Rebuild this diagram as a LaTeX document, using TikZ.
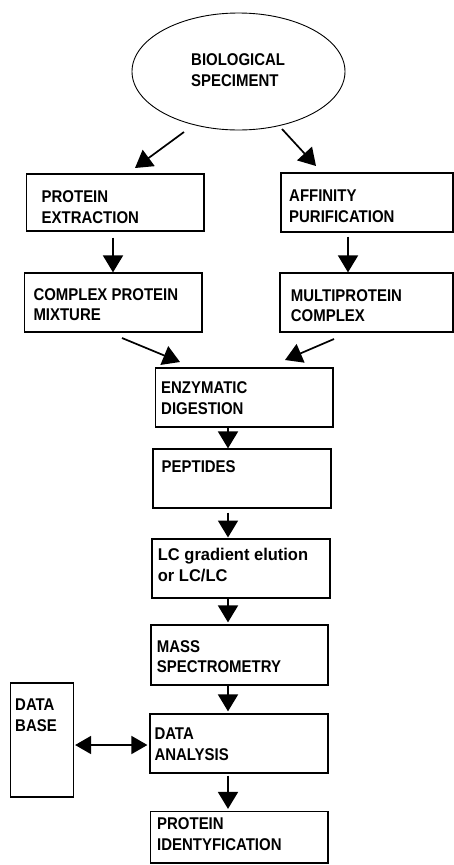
\documentclass[tikz,border=0pt]{standalone}
\usepackage{fontspec}
\setmainfont{Liberation Sans}[FakeStretch=0.88]
\newfontfamily\lcfont{Liberation Sans}[FakeStretch=0.97]
\usetikzlibrary{arrows.meta,calc,shapes.geometric}
\begin{document}
\begin{tikzpicture}[x=1pt,y=-1pt,
  box/.style={draw, line width=1.2pt, rectangle, inner sep=0pt},
  txt/.style={anchor=north west, inner sep=0pt, align=left, font=\fontsize{17}{20.5}\selectfont\bfseries},
  arr/.style={line width=1.7pt, -{Triangle[length=17pt,width=20pt]}},
  darr/.style={line width=1.7pt, {Triangle[length=16pt,width=18pt]}-{Triangle[length=16pt,width=18pt]}},
]
\useasboundingbox (0,0) rectangle (454,865);

% ellipse
\node[draw, ellipse, line width=0.9pt, minimum width=213pt, minimum height=117pt, inner sep=0pt] (bio) at (238.5,71.5) {};
\node[txt] (biot) at (191,53.7) {BIOLOGICAL\\SPECIMENT};

% boxes
\node[box, minimum width=177.5pt, minimum height=57pt] (pe) at (115.25,202.5) {};
\node[box, minimum width=172pt, minimum height=59pt] (ap) at (367,202.5) {};
\node[box, minimum width=177.5pt, minimum height=59pt] (cp) at (113.25,302.5) {};
\node[box, minimum width=173pt, minimum height=59pt] (mc) at (366.5,302.5) {};
\node[box, minimum width=177.5pt, minimum height=59pt] (ed) at (244.25,397.5) {};
\node[box, minimum width=178pt, minimum height=59pt] (pp) at (242,478.5) {};
\node[box, line width=2pt, minimum width=178.5pt, minimum height=59.5pt] (lc) at (240.75,568.25) {};
\node[box, minimum width=177pt, minimum height=60pt] (ms) at (239.5,655) {};
\node[box, minimum width=178pt, minimum height=59pt] (da) at (239,743.5) {};
\node[box, minimum width=177.5pt, minimum height=51.5pt] (pi) at (239.25,837.25) {};
\node[box, minimum width=63pt, minimum height=114pt] (db) at (42,740) {};

% texts
\node[txt] (pet) at (41.5,190.7) {PROTEIN\\EXTRACTION};
\node[txt] (apt) at (289,189.7) {AFFINITY\\PURIFICATION};
\node[txt] (cpt) at (33.3,288.2) {COMPLEX PROTEIN\\MIXTURE};
\node[txt] (mct) at (290.7,289.4) {MULTIPROTEIN\\COMPLEX};
\node[txt] (edt) at (161,381.7) {ENZYMATIC\\DIGESTION};
\node[txt] (ppt) at (161.5,460.4) {PEPTIDES};
\node[txt, font=\fontsize{17}{21.5}\lcfont\bfseries] (lct) at (157.7,547.7) {LC gradient elution\\or LC/LC};
\node[txt] (mst) at (156.7,640.4) {MASS\\SPECTROMETRY};
\node[txt] (dat) at (154.3,727.7) {DATA\\ANALYSIS};
\node[txt] (pit) at (157,817.7) {PROTEIN\\IDENTYFICATION};
\node[txt] (dbt) at (15,699) {DATA\\BASE};

% helper coordinates
\coordinate (a1s) at (184,132);
\coordinate (a1e) at (135,168);
\coordinate (a2s) at (282,129);
\coordinate (a2e) at (316,166);
\coordinate (a3s) at (122,338);
\coordinate (a3e) at (180,362);
\coordinate (a4s) at (334,339);
\coordinate (a4e) at (285,360);
\coordinate (xl) at (113,0);
\coordinate (xr) at (348,0);
\coordinate (xc) at (228,0);
\coordinate (yd) at (0,745);

% connectors
\draw[arr] (a1s) -- (a1e);
\draw[arr] (a2s) -- (a2e);
\draw[arr, shorten <=6pt] (pe.south -| xl) -- (cp.north -| xl);
\draw[arr, shorten <=4pt] (ap.south -| xr) -- (mc.north -| xr);
\draw[arr] (a3s) -- (a3e);
\draw[arr] (a4s) -- (a4e);
\draw[arr] (ed.south -| xc) -- (pp.north -| xc);
\draw[arr, shorten <=4pt] (pp.south -| xc) -- (lc.north -| xc);
\draw[arr] (lc.south -| xc) -- ([yshift=2pt]ms.north -| xc);
\draw[arr] (ms.south -| xc) -- ([yshift=2pt]da.north -| xc);
\draw[arr, shorten <=2pt] (da.south -| xc) -- ([yshift=2pt]pi.north -| xc);
\draw[darr] ([xshift=1pt]db.east |- yd) -- ([xshift=-2pt]da.west |- yd);
\end{tikzpicture}
\end{document}
